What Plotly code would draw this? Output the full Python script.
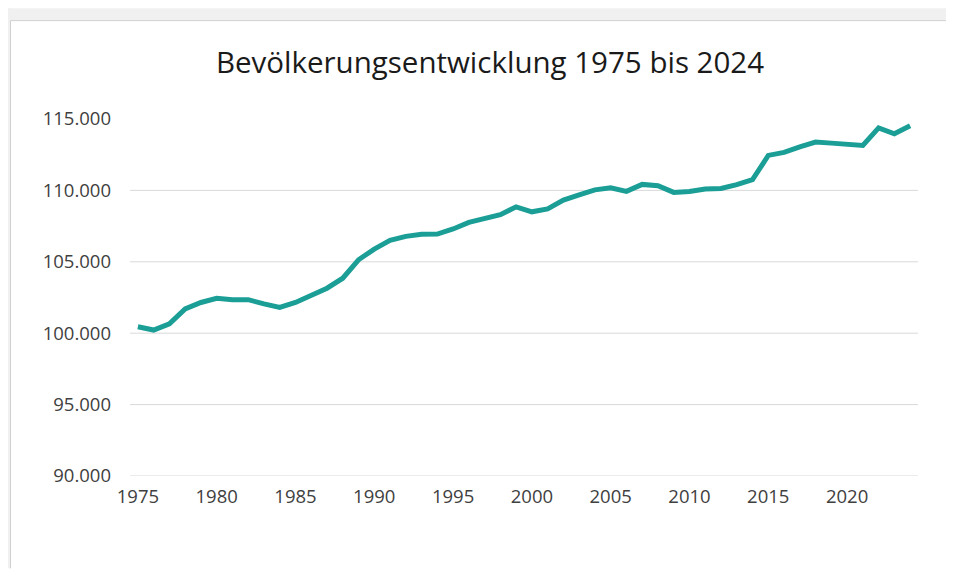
import plotly.graph_objects as go

years = list(range(1975, 2025))
population = [
    100450, 100220, 100660, 101700, 102150, 102440, 102350, 102350, 102050, 101800,
    102150, 102650, 103150, 103850, 105140, 105890, 106500, 106780, 106930, 106940,
    107300, 107760, 107990, 108300, 108850, 108500, 108700, 109320, 109690, 110040,
    110180, 109930, 110420, 110330, 109860, 109930, 110100, 110130, 110400, 110750,
    112450, 112660, 113050, 113380, 113310, 113240, 113150, 114380, 113960, 114520,
]
x_tick_years = [1975, 1980, 1985, 1990, 1995, 2000, 2005, 2010, 2015, 2020]
y_tick_values = [90000, 95000, 100000, 105000, 110000, 115000]
y_grid_values = [90000, 95000, 100000, 105000, 110000]
title_text = "Bevölkerungsentwicklung 1975 bis 2024"

# page body has an 8px margin; the figure is shifted by that amount
OFF = 8
W, H = 954 - OFF, 569 - OFF
ML, MR, MT, MB = 130 - OFF, 36, 119 - OFF, 92.5
pw = W - ML - MR
ph = H - MT - MB

def px_x(p):
    # p in page pixels
    return (p - OFF - ML) / pw

def px_y(p):
    return (H - MB - (p - OFF)) / ph

fig = go.Figure()
fig.add_trace(go.Scatter(
    x=years, y=population, mode="lines",
    line=dict(color="#1A9E96", width=5),
    showlegend=False, hoverinfo="x+y",
))

shapes = []
shapes.append(dict(type="rect", xref="paper", yref="paper",
                   x0=px_x(OFF), x1=px_x(954), y0=px_y(OFF), y1=px_y(20.5),
                   fillcolor="#F0F0F0", line=dict(width=0), layer="below"))
shapes.append(dict(type="rect", xref="paper", yref="paper",
                   x0=px_x(OFF), x1=px_x(10.5), y0=px_y(569), y1=px_y(OFF),
                   fillcolor="#F0F0F0", line=dict(width=0), layer="below"))
shapes.append(dict(type="line", xref="paper", yref="paper",
                   x0=px_x(10.5), x1=px_x(954), y0=px_y(20.5), y1=px_y(20.5),
                   line=dict(color="#D0D0D0", width=1), layer="below"))
shapes.append(dict(type="line", xref="paper", yref="paper",
                   x0=px_x(10.5), x1=px_x(10.5), y0=px_y(20.5), y1=px_y(569),
                   line=dict(color="#D0D0D0", width=1), layer="below"))
for gv in y_grid_values:
    shapes.append(dict(type="line", xref="paper", yref="y",
                       x0=0, x1=1, y0=gv, y1=gv,
                       line=dict(color="#D9D9D9", width=1), layer="below"))

fig.update_layout(
    width=W, height=H,
    margin=dict(l=ML, r=MR, t=MT, b=MB, autoexpand=False),
    paper_bgcolor="white", plot_bgcolor="white",
    separators=",.",
    title=dict(text=title_text, x=(490 - OFF) / W, xanchor="center",
               y=1 - (63 - OFF) / H, yanchor="middle",
               font=dict(family="Open Sans", size=29.5, color="#1A1A1A")),
    font=dict(family="Open Sans", color="#404040"),
    shapes=shapes,
    xaxis=dict(range=[1974.5, 2024.5], tickvals=x_tick_years,
               ticktext=[str(y) for y in x_tick_years],
               showgrid=False, zeroline=False, showline=False,
               ticks="", ticklabelstandoff=7,
               tickfont=dict(size=18.5, color="#404040"), fixedrange=True),
    yaxis=dict(range=[90000, 115000], tickvals=y_tick_values, tickformat=",d",
               showgrid=False, zeroline=False, showline=False,
               ticks="", ticklabelstandoff=18,
               tickfont=dict(size=18.5, color="#404040"), fixedrange=True),
)

fig.write_html("out.html")
